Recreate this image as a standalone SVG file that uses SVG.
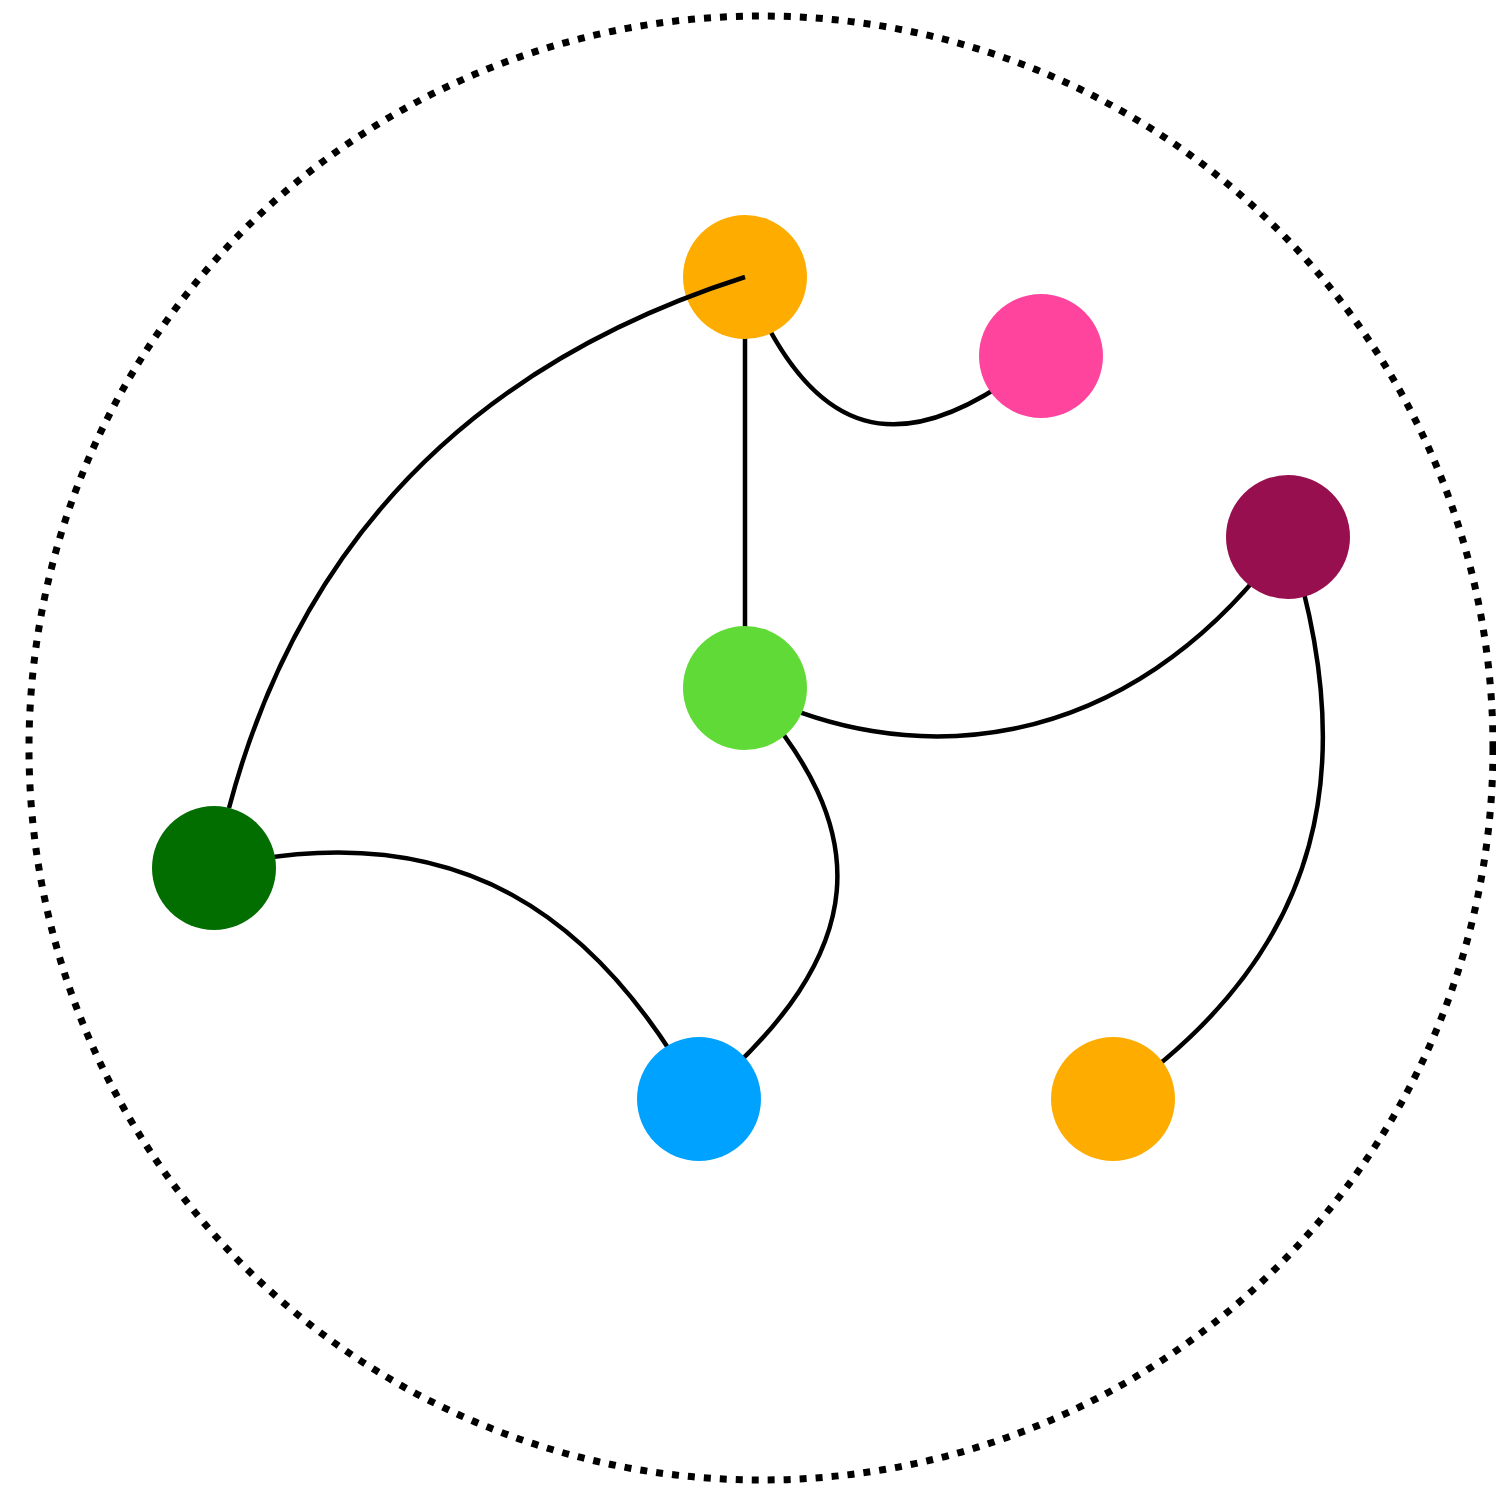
<svg xmlns="http://www.w3.org/2000/svg" width="1496" height="1490" viewBox="0 0 1496 1490">
<style>
.edge{fill:none;stroke:#000;stroke-width:4.5}
.node{stroke:none}
</style>
<rect width="1496" height="1490" fill="#fff"/>
<circle cx="761" cy="748" r="732" fill="none" stroke="#000" stroke-width="7" stroke-dasharray="7 9"/>
<g id="edges">
<path class="edge" d="M745,277 C 810,440 900,470 1041,356"/>
<path class="edge" d="M745,277 L745,688"/>
<path class="edge" d="M745,688 C 900,770 1125,765 1288,537"/>
<path class="edge" d="M745,688 C 875,830 875,950 699,1099"/>
<path class="edge" d="M214,868 C 460,810 600,920 699,1099"/>
<path class="edge" d="M1288,537 C 1360,760 1330,950 1113,1099"/>
</g>
<g id="n1"><circle class="node" cx="745" cy="277" r="62" fill="#FEAD00"/></g>
<g id="n2"><circle class="node" cx="1041" cy="356" r="62" fill="#FF449E"/></g>
<g id="n3"><circle class="node" cx="1288" cy="537" r="62" fill="#970F4F"/></g>
<g id="n4"><circle class="node" cx="745" cy="688" r="62" fill="#60DA37"/></g>
<g id="n5"><circle class="node" cx="214" cy="868" r="62" fill="#036E00"/></g>
<g id="n6"><circle class="node" cx="699" cy="1099" r="62" fill="#00A2FF"/></g>
<g id="n7"><circle class="node" cx="1113" cy="1099" r="62" fill="#FEAD00"/></g>
<g id="edges-top">
<path class="edge" d="M745,277 Q 335,408 229,808"/>
</g>
</svg>
